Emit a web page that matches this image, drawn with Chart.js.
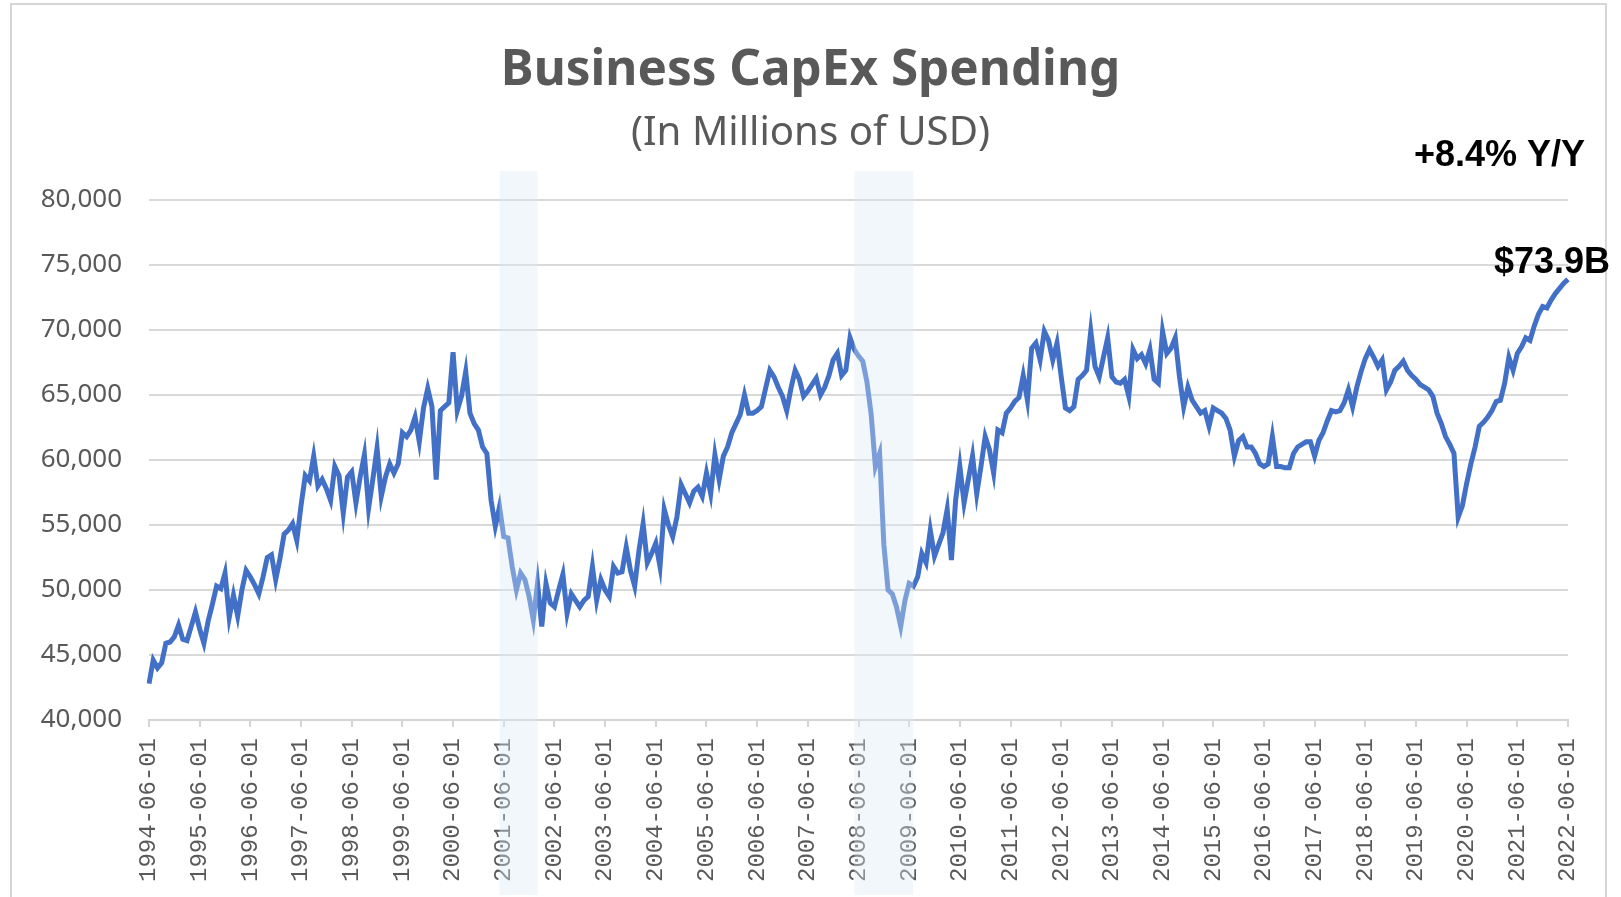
<!DOCTYPE html>
<html><head><meta charset="utf-8">
<script src="https://cdn.jsdelivr.net/npm/chart.js@4.4.1/dist/chart.umd.min.js"></script>
<style>
html,body{margin:0;padding:0;background:#fff;overflow:hidden}
#wrap{position:relative;width:1621px;height:897px}
#frame{position:absolute;left:10px;top:3px;width:1597px;height:905px;border:2px solid #d6d6d6;box-sizing:border-box}
#c{position:absolute;left:0;top:0}
</style></head><body>
<div id="wrap"><div id="frame"></div><canvas id="c" width="1621" height="897"></canvas></div>
<script>
// Monthly values (millions USD), June 1994 .. June 2022
const capex1994_1997 = [42800,44600,44000,44400,45900,46000,46400,47300,46200,46100,47200,48300, 47000,45900,47600,48900,50300,50100,51300,47900,49600,48000,50000,51500, 51000,50400,49700,51000,52500,52700,50800,52400,54300,54600,55100,53800];
const capex1997_2000 = [56500,58800,58400,60300,58000,58500,57800,56900,59500,58800,55900,58700, 59100,56700,58700,60400,56300,58500,60900,57200,58700,59700,59000,59700, 62100,61800,62300,63300,61400,64000,65500,64100,58500,63800,64100,64400];
const capex2000_2003 = [68300,63800,64900,66800,63600,62800,62300,61000,60500,56900,54900,56400, 54100,54000,51800,50000,51300,50800,49500,47700,50500,47200,50500,49000, 48700,50000,51200,48200,49700,49200,48700,49200,49500,51800,49200,50800];
const capex2003_2006 = [50000,49500,51800,51300,51400,53300,51500,50300,53000,55100,52100,52800, 53600,51800,56200,55000,54100,55600,58100,57400,56700,57600,57900,57200, 59000,57400,60400,58500,60300,61000,62100,62800,63500,65000,63600,63600];
const capex2006_2009 = [63800,64100,65500,66900,66400,65600,64900,63800,65500,66900,66200,64900, 65300,65800,66300,65000,65600,66500,67700,68200,66500,66900,69400,68500, 68000,67600,66000,63500,59500,60500,53500,50000,49700,48700,47200,49200];
const capex2009_2012 = [50500,50300,51000,52800,52100,54600,52600,53500,54400,56200,52300,56900, 59500,56700,58500,60300,57400,59500,61800,60800,59000,62300,62100,63600, 64000,64500,64800,66500,64600,68600,69000,67700,69900,69200,67700,69000];
const capex2012_2015 = [66400,64000,63800,64100,66200,66500,66900,69900,67200,66400,67900,69400, 66400,66000,65900,66200,64900,68500,67800,68100,67400,68500,66200,65900, 69900,68200,68600,69400,66400,64100,65600,64600,64100,63600,63800,62600];
const capex2015_2018 = [64000,63800,63600,63200,62300,60300,61500,61800,61000,61000,60500,59700, 59500,59700,61800,59500,59500,59400,59400,60500,61000,61200,61400,61400, 60300,61500,62100,63000,63800,63700,63800,64400,65400,64100,65600,66800];
const capex2018_2021 = [67800,68500,67900,67200,67700,65400,66000,66900,67200,67600,66900,66500, 66200,65800,65600,65400,64900,63600,62800,61800,61200,60500,55600,56500, 58200,59700,61000,62600,62900,63300,63800,64500,64600,65900,67900,66900];
const capex2021_2022 = [68200,68700,69400,69200,70300,71200,71800,71700,72300,72800,73200,73600,73900];

const startYear = 1994, startMonth = 6;
const tickMonth = '06';
const recessions = [[83, 92], [167, 181]]; // month index ranges shaded
const titleText = 'Business CapEx Spending';
const subtitleText = '(In Millions of USD)';
const noteYoY = '+8.4% Y/Y';
const noteLast = '$73.9B';

const values = [].concat(capex1994_1997, capex1997_2000, capex2000_2003, capex2003_2006,
  capex2006_2009, capex2009_2012, capex2012_2015, capex2015_2018, capex2018_2021, capex2021_2022);
const labels = [];
for (let i = 0; i < values.length; i++) {
  const t = (startMonth - 1) + i;
  const y = startYear + Math.floor(t / 12), m = (t % 12) + 1;
  labels.push(y + '-' + String(m).padStart(2, '0') + '-01');
}

// --- text sizing helpers (fit reference text widths / baselines)
const FAM = '"Noto Sans", sans-serif';
const mctx = document.createElement('canvas').getContext('2d');
function fitSize(text, weight, target) {
  mctx.font = weight + ' 100px ' + FAM;
  return Math.round(1000 * target / mctx.measureText(text).width) / 10;
}
function midToBase(size, weight) {
  mctx.font = weight + ' ' + size + 'px ' + FAM;
  mctx.textBaseline = 'middle';
  const d = mctx.measureText('H').actualBoundingBoxDescent;
  mctx.textBaseline = 'alphabetic';
  return d;
}
const tSize = fitSize(titleText, 'bold', 619);
const sSize = fitSize(subtitleText, 'normal', 359);
const tMid = 85 - midToBase(tSize, 'bold');
const sMid = 145 - midToBase(sSize, 'normal');
const tTop = tMid - 0.6 * tSize;
const sTop = sMid - 0.6 * sSize;
const tPadBottom = sTop - (tTop + 1.2 * tSize);
const sPadBottom = 200 - (sTop + 1.2 * sSize);

const bandPlugin = {
  id: 'bands',
  afterLayout(chart) {
    // center title blocks on the full canvas width
    chart.boxes.forEach(b => {
      if (b.options && (b.options.text === titleText || b.options.text === subtitleText)) {
        b.left = 0; b.right = chart.width; b.width = chart.width;
      }
    });
  },
  afterDraw(chart) {
    const ctx = chart.ctx, x = chart.scales.x, ca = chart.chartArea;
    ctx.save();
    ctx.fillStyle = 'rgba(222,235,248,0.38)';
    recessions.forEach(([a, b]) => {
      const x0 = x.getPixelForValue(a), x1 = x.getPixelForValue(b);
      ctx.fillRect(x0, ca.top - 29, x1 - x0, chart.height - (ca.top - 29) - 2);
    });
    ctx.restore();
    const meta = chart.getDatasetMeta(0);
    const last = meta.data[meta.data.length - 1];
    ctx.save();
    ctx.fillStyle = '#000';
    ctx.font = 'bold 36px "Liberation Sans", Arial, sans-serif';
    ctx.textAlign = 'right';
    ctx.textBaseline = 'alphabetic';
    ctx.fillText(noteLast, last.x + 42, last.y - 6);
    ctx.fillText(noteYoY, last.x + 17, ca.top - 34);
    ctx.restore();
  }
};

new Chart(document.getElementById('c'), {
  type: 'line',
  data: {
    labels: labels,
    datasets: [{
      data: values,
      borderColor: '#4170c6',
      borderWidth: 5,
      pointRadius: 0,
      tension: 0,
      fill: false
    }]
  },
  options: {
    responsive: false,
    animation: false,
    devicePixelRatio: 1,
    layout: { padding: { left: 39, right: 53, top: 0, bottom: 4 } },
    plugins: {
      legend: { display: false },
      tooltip: { enabled: false },
      title: {
        display: true, text: titleText, color: '#595959',
        font: { family: FAM, size: tSize, weight: 'bold', lineHeight: 1.2 },
        padding: { top: tTop, bottom: tPadBottom }
      },
      subtitle: {
        display: true, text: subtitleText, color: '#595959',
        font: { family: FAM, size: sSize, weight: 'normal', lineHeight: 1.2 },
        padding: { top: 0, bottom: sPadBottom }
      }
    },
    scales: {
      x: {
        type: 'category',
        offset: false,
        afterBuildTicks: (s) => { s.ticks = s.ticks.filter(t => labels[t.value].slice(5, 7) === tickMonth); },
        ticks: {
          autoSkip: false, maxRotation: 90, minRotation: 90,
          color: '#595959', font: { family: 'Liberation Mono', size: 24 }, padding: 11
        },
        grid: { display: true, drawOnChartArea: false, drawTicks: true, tickLength: 7, color: '#d4d4d4', lineWidth: 2 },
        border: { display: true, color: '#d4d4d4', width: 2 }
      },
      y: {
        min: 40000, max: 80000,
        afterFit: (s) => { s.width = 110; },
        ticks: {
          stepSize: 5000, color: '#595959', padding: 27,
          font: { family: FAM, size: 26 },
          callback: (v) => v.toLocaleString('en-US')
        },
        grid: { color: '#d9d9d9', lineWidth: 2, drawTicks: false },
        border: { display: false }
      }
    }
  },
  plugins: [bandPlugin]
});
</script>
</body></html>
